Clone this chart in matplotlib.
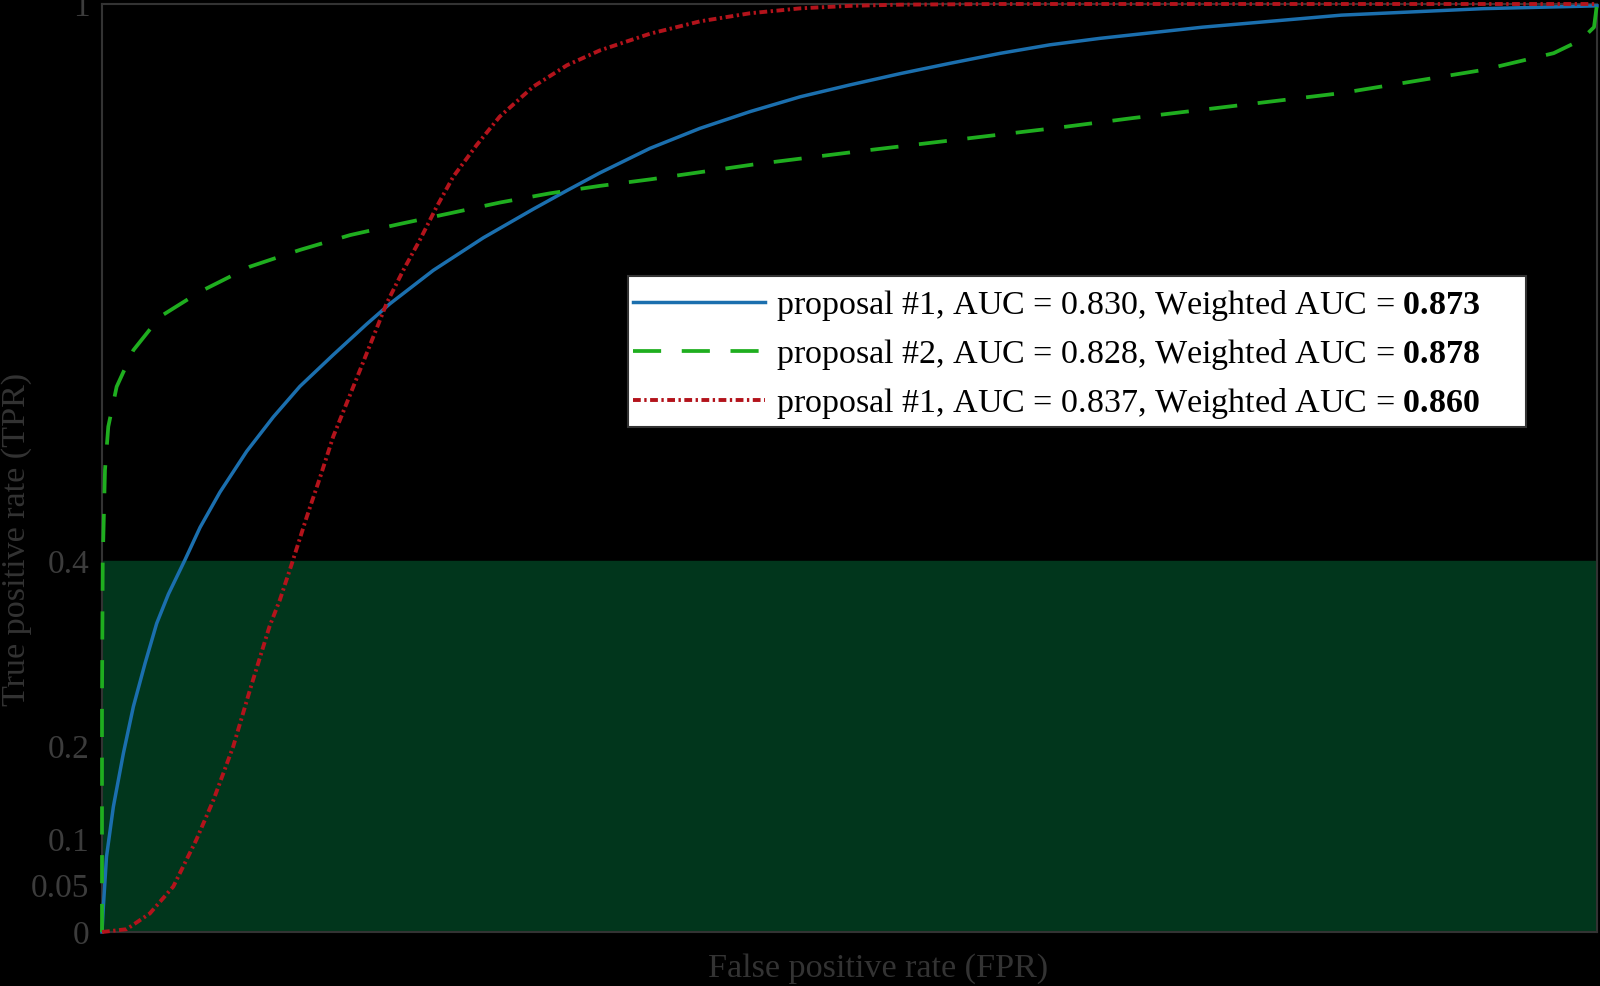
import matplotlib
matplotlib.use("Agg")
import matplotlib.pyplot as plt
from matplotlib.patches import Rectangle

plt.rcParams['font.family'] = ['Liberation Serif', 'DejaVu Serif']
plt.rcParams['mathtext.fontset'] = 'custom'
plt.rcParams['mathtext.rm'] = 'Liberation Serif'
plt.rcParams['mathtext.bf'] = 'Liberation Serif:bold'

# ---- data ----
fpr1 = [0.0, 0.0009, 0.003, 0.0076, 0.0143, 0.021, 0.0288, 0.0366, 0.0444, 0.0555,
        0.0656, 0.0789, 0.0968, 0.1146, 0.1324, 0.1547, 0.177, 0.1926, 0.2216, 0.255,
        0.2885, 0.311, 0.333, 0.3666, 0.400, 0.4334, 0.467, 0.500, 0.534, 0.567,
        0.6007, 0.634, 0.6676, 0.736, 0.829, 0.924, 1.0]
tpr1 = [0.0, 0.027, 0.081, 0.135, 0.1925, 0.243, 0.2895, 0.3326, 0.364, 0.401,
        0.436, 0.474, 0.518, 0.555, 0.588, 0.622, 0.655, 0.677, 0.713, 0.748,
        0.779, 0.799, 0.818, 0.8445, 0.866, 0.884, 0.900, 0.9127, 0.925, 0.936,
        0.9468, 0.956, 0.963, 0.975, 0.988, 0.995, 0.998]

fpr2 = [0.0, 0.0, 0.0005, 0.002, 0.0042, 0.0098, 0.021, 0.0388, 0.0656, 0.099,
        0.1324, 0.166, 0.1993, 0.2328, 0.266, 0.2997, 0.333, 0.3666, 0.4355, 0.505,
        0.573, 0.641, 0.689, 0.829, 0.924, 0.971, 0.989, 0.998, 1.0]
tpr2 = [0.0, 0.25, 0.40, 0.498, 0.5445, 0.5876, 0.627, 0.663, 0.690, 0.717,
        0.735, 0.751, 0.763, 0.7745, 0.786, 0.796, 0.804, 0.811, 0.827, 0.841,
        0.854, 0.867, 0.877, 0.904, 0.929, 0.947, 0.961, 0.975, 1.0]

fpr3 = [0.0, 0.0165, 0.032, 0.0477, 0.063, 0.0745, 0.0878, 0.099, 0.112, 0.119,
        0.127, 0.137, 0.146, 0.1547, 0.1637, 0.1726, 0.1815, 0.1904, 0.2015, 0.2127,
        0.2239, 0.235, 0.2506, 0.266, 0.2885, 0.311, 0.333, 0.3666, 0.400, 0.4334,
        0.467, 0.500, 0.534, 0.60, 1.0]
tpr3 = [0.0, 0.003, 0.020, 0.049, 0.099, 0.142, 0.2, 0.261, 0.329, 0.358,
        0.397, 0.4475, 0.4906, 0.534, 0.570, 0.6056, 0.6415, 0.6775, 0.713, 0.746,
        0.7816, 0.814, 0.848, 0.8786, 0.911, 0.934, 0.950, 0.968, 0.9813, 0.990,
        0.9953, 0.998, 0.9993, 1.0, 1.0]

labels = [r"proposal #1, AUC = 0.830, Weighted AUC = $\mathbf{0.873}$",
          r"proposal #2, AUC = 0.828, Weighted AUC = $\mathbf{0.878}$",
          r"proposal #1, AUC = 0.837, Weighted AUC = $\mathbf{0.860}$"]

yticks = [0, 0.05, 0.1, 0.2, 0.4, 1]
ytick_labels = ["0", "0.05", "0.1", "0.2", "0.4", "1"]
shade_top = 0.4

# ---- figure ----
W, H = 1600, 986
fig = plt.figure(figsize=(W / 100, H / 100), dpi=100, facecolor='black')
ax = fig.add_axes([102 / W, 1 - 932 / H, 1495 / W, 928 / H], facecolor='black')

ax.axhspan(0, shade_top, color='#01361c', zorder=0)

ax.plot(fpr1, tpr1, color='#1b6fae', lw=2.5, label=labels[0], clip_on=False, zorder=3)
ax.plot(fpr2, tpr2, color='#1fae1f', lw=2.7, dashes=(7.5, 5.5), label=labels[1],
        clip_on=False, zorder=3)
ax.plot(fpr3, tpr3, color='#b3131b', lw=2.8, dashes=(2.0, 0.9, 0.6, 0.9),
        label=labels[2], clip_on=False, zorder=3)

ax.set_xlim(0, 1)
ax.set_ylim(0, 1)
ax.set_xticks([])
ax.set_yticks(yticks)
ax.set_yticklabels(ytick_labels)
ax.tick_params(axis='y', length=0, pad=9, labelsize=24, labelcolor='#3c3c3c')

for s in ax.spines.values():
    s.set_color('#333333')
    s.set_linewidth(1.5)

ax.set_ylabel("True positive rate (TPR)", fontsize=24.6, color='#333333')
ax.yaxis.set_label_coords(-0.047, 0.4235)
ax.set_xlabel("False positive rate (FPR)", fontsize=24.6, color='#333333')
ax.xaxis.set_label_coords(0.519, -0.0225)

# legend frame (white box with dark edge)
frame = Rectangle((627.6 / W, 1 - 426.5 / H), 897.9 / W, 151 / H,
                  transform=fig.transFigure, facecolor='white',
                  edgecolor='#333333', lw=1.5, zorder=4, clip_on=False)
ax.add_patch(frame)

leg = ax.legend(loc='upper left', bbox_to_anchor=(622.5 / W, 1 - 277.5 / H),
                bbox_transform=fig.transFigure, borderaxespad=0,
                fontsize=24.5, handlelength=3.9, handletextpad=0.3,
                labelspacing=0.42, borderpad=0.3, frameon=False)
leg.set_zorder(5)
for t in leg.get_texts():
    t.set_color('black')

fig.savefig("out.png", dpi=100, facecolor='black')
